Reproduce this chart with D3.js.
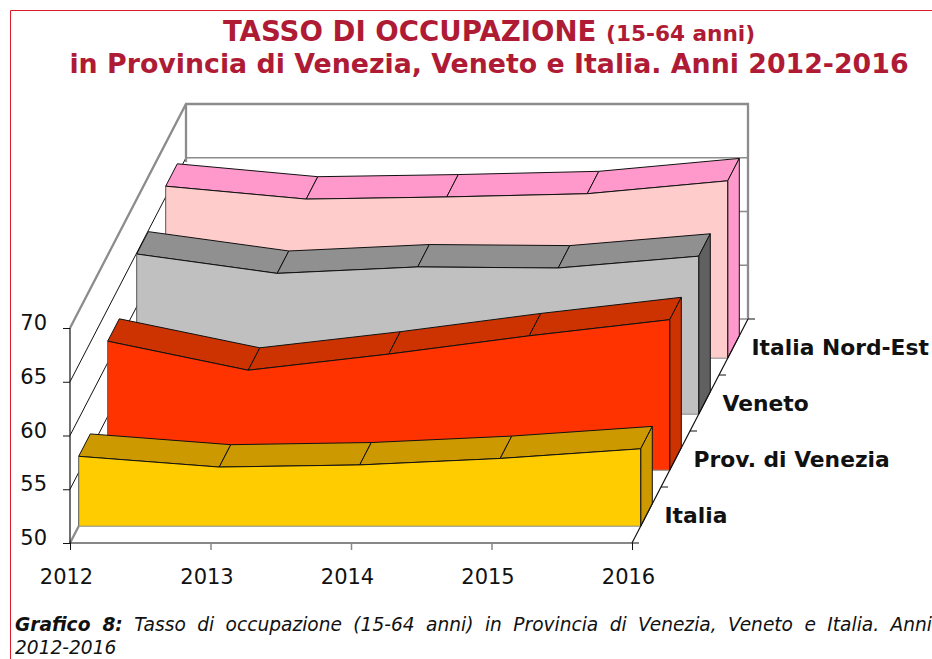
<!DOCTYPE html>
<html><head><meta charset="utf-8">
<script src="https://cdnjs.cloudflare.com/ajax/libs/d3/7.8.5/d3.min.js"></script>
<style>
html,body{margin:0;padding:0;background:#fff}
svg{display:block}
text{font-family:"DejaVu Sans",Verdana,sans-serif}
</style></head><body>
<svg id="c" width="932" height="659"></svg>
<script>
const years=[2012,2013,2014,2015,2016];
const yTicks=[50,55,60,65,70];
const seriesNames=["Italia","Prov. di Venezia","Veneto","Italia Nord-Est"];
const italia=[56.5,55.5,55.7,56.3,57.2];
const venezia=[62.0,59.3,60.8,62.5,64.0];
const veneto=[64.9,63.1,63.7,63.6,64.7];
const nordEst=[66.0,64.8,65.0,65.3,66.5];
const frontColors=["#FFCC00","#FF3300","#C0C0C0","#FFCCCC"];
const topColors=["#CC9900","#CC3300","#909090","#FF99CC"];
const endColors=["#CC9900","#CC3300","#606060","#FF99CC"];
const seriesValues=[italia,venezia,veneto,nordEst];

const svg=d3.select("#c");
const x=d3.scalePoint().domain(years).range([70,632]);
const y=d3.scaleLinear().domain([50,70]).range([543,328]);
const dx=d3.scaleLinear().domain([0,4]).range([0,116]);
const dy=d3.scaleLinear().domain([0,4]).range([0,-224]);
const P=(yr,v,d)=>[x(yr)+dx(d),y(v)+dy(d)];
const line=d3.line();
const gray="#8c8c8c",ink="#111";

// page frame
svg.append("path").attr("d","M10.5,659V10.5H932").attr("fill","none").attr("stroke","#dd1c2c").attr("stroke-width",1);

// title
const red="#AF1B34";
const t=svg.append("g").attr("fill",red).attr("font-weight","bold").attr("text-anchor","middle");
const t1=t.append("text").attr("x",489).attr("y",41).attr("font-size",27.6);
t1.append("tspan").text("TASSO DI OCCUPAZIONE ");
t1.append("tspan").attr("font-size",21.6).text("(15-64 anni)");
t.append("text").attr("x",489).attr("y",73).attr("font-size",26.8).text("in Provincia di Venezia, Veneto e Italia. Anni 2012-2016");

// walls
const y0=50,y1=70,d0=0,d1=4,xa=years[0],xb=years[4];
const wall=svg.append("g").attr("fill","none");
yTicks.slice(1,4).forEach(v=>{
  wall.append("path").attr("d",line([P(xa,v,d0),P(xa,v,d1)])).attr("stroke",ink).attr("stroke-width",1);
  wall.append("path").attr("d",line([P(xa,v,d1),P(xb,v,d1)])).attr("stroke",gray).attr("stroke-width",1.4);
});
wall.append("path").attr("d",line([P(xa,y0,d1),P(xb,y0,d1)])).attr("stroke",gray).attr("stroke-width",1.4);
wall.append("path").attr("d",line([P(xa,y1,d0),P(xa,y1,d1),P(xb,y1,d1),P(xb,y0,d1)])).attr("stroke",gray).attr("stroke-width",2.3);
wall.append("path").attr("d",line([P(xa,y1,d1),P(xa,y0+14.6,d1)])).attr("stroke",gray).attr("stroke-width",2.3);
wall.append("path").attr("d",line([P(xa,y0,d0),P(xa,y0,d0+.3)])).attr("stroke",gray).attr("stroke-width",2.3);

// ribbons, back to front
const W=[.3,.7];
d3.range(3,-1,-1).forEach(i=>{
  const g=svg.append("g").attr("stroke",ink).attr("stroke-width",1).attr("stroke-linejoin","round");
  const vals=seriesValues[i],f=i+W[0],b=i+W[1];
  d3.pairs(d3.zip(years,vals)).forEach(([a,c])=>{
    g.append("path").attr("fill",topColors[i])
     .attr("d",line([P(a[0],a[1],f),P(a[0],a[1],b),P(c[0],c[1],b),P(c[0],c[1],f)])+"Z");
  });
  g.append("path").attr("fill",endColors[i])
   .attr("d",line([P(xb,vals[4],f),P(xb,vals[4],b),P(xb,y0,b),P(xb,y0,f)])+"Z");
  const top=years.map((yr,k)=>P(yr,vals[k],f));
  g.append("path").attr("stroke","none").attr("fill",frontColors[i])
   .attr("d",line([...top,P(xb,y0,f),P(xa,y0,f)])+"Z");
  g.append("path").attr("fill","none").attr("d",line(top));
  g.append("path").attr("fill","none").attr("d",line([P(xb,y0,f),P(xb,vals[4],f)]));
  g.append("path").attr("fill","none").attr("stroke","#555").attr("d",line([top[0],P(xa,y0,f)]));
  g.append("path").attr("fill","none").attr("stroke","#8a8a8a").attr("d",line([P(xa,y0,f),P(xb,y0,f)]));
});

// axes
const ax=svg.append("g").attr("fill","none").attr("stroke",ink);
ax.append("path").attr("d",line([P(xa,y1,0),P(xa,y0,0),P(xb,y0,0),P(xb,y0,4)])).attr("stroke-width",1.2);

const axisFont=21;
const gy=svg.append("g").attr("transform",`translate(${x(xa)},0)`)
  .call(d3.axisLeft(y).tickValues(yTicks).tickSize(7).tickPadding(16));
gy.select(".domain").remove();
gy.selectAll("line").attr("stroke",ink);
gy.selectAll("text").attr("font-size",axisFont).attr("fill","#111").attr("dy","0.32em").attr("y",-5).attr("font-family",'"DejaVu Sans"');

const gx=svg.append("g").attr("transform",`translate(0,${y(y0)})`)
  .call(d3.axisBottom(x).tickSize(7).tickPadding(0));
gx.select(".domain").remove();
gx.selectAll("line").attr("stroke",(d,i)=>i===0||i===4?ink:"#888").attr("stroke-width",(d,i)=>i===0||i===4?1:1.5);
gx.selectAll("text").attr("font-size",axisFont).attr("fill","#111").attr("dy",0).attr("y",41).attr("x",-4).attr("font-family",'"DejaVu Sans"');

// depth ticks & series labels
const gd=svg.append("g");
d3.range(0,5).forEach(d=>{
  const [px,py]=P(xb,y0,d);
  gd.append("path").attr("d",line([[px,py],[px+7,py]])).attr("stroke",ink).attr("fill","none");
});
seriesNames.forEach((n,i)=>{
  const [px,py]=P(xb,y0,i+.5);
  gd.append("text").attr("x",px+18).attr("y",py+8).attr("font-size",21.8).attr("font-weight","bold").attr("fill","#111").text(n);
});

// caption
const cap=svg.append("g").attr("fill","#111").attr("font-size",18.6);
const c1=cap.append("text").attr("x",15).attr("y",631).attr("font-style","italic").attr("xml:space","preserve");
c1.append("tspan").attr("font-weight","bold").text("Grafico 8:");
c1.append("tspan").text(" Tasso di occupazione (15-64 anni) in Provincia di Venezia, Veneto e Italia. Anni");
const spaces=14;
const w=c1.node().getComputedTextLength();
c1.attr("word-spacing",(917-w)/spaces);
cap.append("text").attr("x",15).attr("y",654).attr("font-style","italic").text("2012-2016");
</script>
</body></html>
